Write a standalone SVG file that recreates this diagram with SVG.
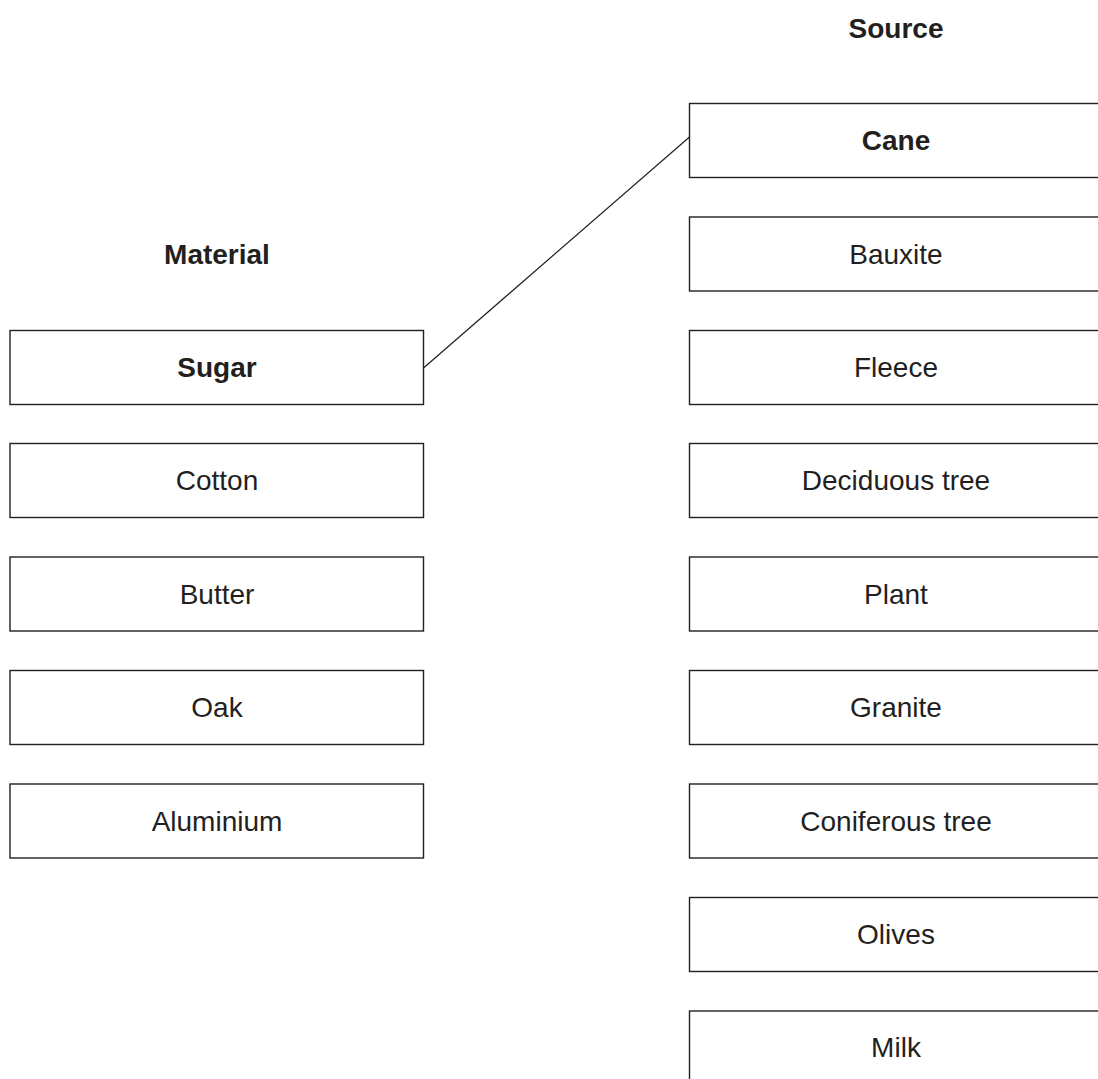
<svg xmlns="http://www.w3.org/2000/svg" width="1098" height="1079" viewBox="0 0 1098 1079">
<style>
.box{fill:#fff;stroke:#231f20;stroke-width:1.4}
.t{font-family:"Liberation Sans",Arial,sans-serif;font-size:28px;fill:#231f20;text-anchor:middle}
.b{font-weight:bold}
.conn{stroke:#231f20;stroke-width:1.2;fill:none}
</style>
<rect width="1098" height="1079" fill="#fff"/>
<text class="t b" x="896" y="38">Source</text>
<text class="t b" x="217" y="264">Material</text>
<g id="left">
<g id="sugar"><rect class="box" x="10" y="330.5" width="413.5" height="74"/><text class="t b" x="217" y="377">Sugar</text></g>
<g id="cotton"><rect class="box" x="10" y="443.5" width="413.5" height="74"/><text class="t" x="217" y="490">Cotton</text></g>
<g id="butter"><rect class="box" x="10" y="557" width="413.5" height="74"/><text class="t" x="217" y="604">Butter</text></g>
<g id="oak"><rect class="box" x="10" y="670.5" width="413.5" height="74"/><text class="t" x="217" y="717">Oak</text></g>
<g id="aluminium"><rect class="box" x="10" y="784" width="413.5" height="74"/><text class="t" x="217" y="831">Aluminium</text></g>
</g>
<g id="right">
<g id="cane"><rect class="box" x="689.5" y="103.5" width="420" height="74"/><text class="t b" x="896" y="150">Cane</text></g>
<g id="bauxite"><rect class="box" x="689.5" y="217" width="420" height="74"/><text class="t" x="896" y="264">Bauxite</text></g>
<g id="fleece"><rect class="box" x="689.5" y="330.5" width="420" height="74"/><text class="t" x="896" y="377">Fleece</text></g>
<g id="deciduous"><rect class="box" x="689.5" y="443.5" width="420" height="74"/><text class="t" x="896" y="490">Deciduous tree</text></g>
<g id="plant"><rect class="box" x="689.5" y="557" width="420" height="74"/><text class="t" x="896" y="604">Plant</text></g>
<g id="granite"><rect class="box" x="689.5" y="670.5" width="420" height="74"/><text class="t" x="896" y="717">Granite</text></g>
<g id="coniferous"><rect class="box" x="689.5" y="784" width="420" height="74"/><text class="t" x="896" y="831">Coniferous tree</text></g>
<g id="olives"><rect class="box" x="689.5" y="897.5" width="420" height="74"/><text class="t" x="896" y="944">Olives</text></g>
<g id="milk"><rect class="box" x="689.5" y="1011" width="420" height="74"/><text class="t" x="896" y="1057">Milk</text></g>
</g>
<g id="connectors">
<line class="conn" x1="423.5" y1="368" x2="689.5" y2="137"/>
</g>
</svg>
